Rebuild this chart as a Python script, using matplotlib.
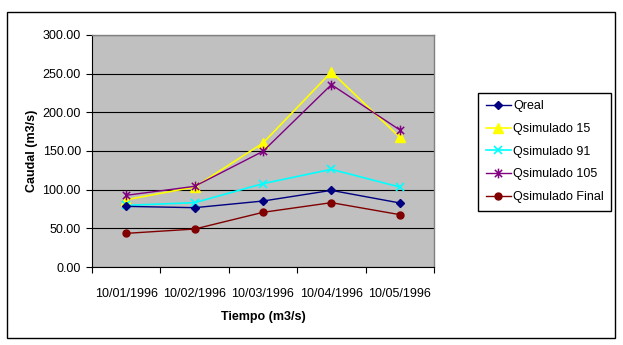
import matplotlib
matplotlib.use("Agg")
import matplotlib.pyplot as plt
from matplotlib.path import Path
from matplotlib.patches import Rectangle
from matplotlib.ticker import FixedLocator, FormatStrFormatter

plt.rcParams['font.family'] = ['Liberation Sans', 'DejaVu Sans']

fechas = ["10/01/1996", "10/02/1996", "10/03/1996", "10/04/1996", "10/05/1996"]
qreal = [78.4, 76.7, 85.3, 99.1, 82.8]
qsim15 = [87.0, 103.4, 160.3, 252.2, 167.7]
qsim91 = [79.7, 83.2, 107.8, 126.3, 103.4]
qsim105 = [92.7, 104.3, 149.6, 235.8, 177.2]
qsimfinal = [43.5, 49.1, 70.7, 83.2, 67.7]

W, H = 623, 345
fig = plt.figure(figsize=(W / 100, H / 100), dpi=100)
fig.patch.set_facecolor("white")

L, R, T, B = 92, 434, 35, 267
ax = fig.add_axes([L / W, 1 - B / H, (R - L) / W, (B - T) / H])
ax.set_facecolor("#C0C0C0")

star = Path([(0, -1), (0, 1), (-0.75, -0.75), (0.75, 0.75), (-0.75, 0.75), (0.75, -0.75)],
            [Path.MOVETO, Path.LINETO, Path.MOVETO, Path.LINETO, Path.MOVETO, Path.LINETO])

x = list(range(len(fechas)))
ax.plot(x, qreal, color="#000080", lw=1, marker="D", ms=4, label="Qreal", zorder=5)
ax.plot(x, qsim15, color="#FFFF00", lw=1.2, marker="^", ms=7, label="Qsimulado 15", zorder=4)
ax.plot(x, qsim91, color="#00FFFF", lw=1.2, marker="x", ms=6, mew=1.2, label="Qsimulado 91", zorder=4)
ax.plot(x, qsim105, color="#800080", lw=1, marker=star, ms=7, mew=1.1, label="Qsimulado 105", zorder=4)
ax.plot(x, qsimfinal, color="#800000", lw=1, marker="o", ms=5, label="Qsimulado Final", zorder=5)

ax.set_xlim(-0.5, len(fechas) - 0.5)
ax.set_ylim(0, 300)
ax.yaxis.set_major_locator(FixedLocator([0, 50, 100, 150, 200, 250, 300]))
ax.yaxis.set_major_formatter(FormatStrFormatter("%.2f"))
ax.grid(axis="y", color="black", lw=0.8)
ax.set_axisbelow(True)

ax.set_xticks(x)
ax.set_xticklabels(fechas)
ax.set_xticks([i - 0.5 for i in range(len(fechas) + 1)], minor=True)
ax.tick_params(axis="x", which="major", length=0, pad=15, labelsize=9)
ax.tick_params(axis="x", which="minor", length=4, width=0.8, direction="out")
ax.tick_params(axis="y", length=4, width=0.8, direction="out", pad=4, labelsize=9)

for s in ["left", "bottom"]:
    ax.spines[s].set_color("black")
    ax.spines[s].set_linewidth(0.8)
for s in ["top", "right"]:
    ax.spines[s].set_color("#808080")
    ax.spines[s].set_linewidth(1)

ax.set_ylabel("Caudal (m3/s)", fontsize=9, fontweight="bold")
ax.yaxis.set_label_coords((38 - L) / (R - L), 0.5)
ax.set_xlabel("Tiempo (m3/s)", fontsize=9, fontweight="bold")
ax.xaxis.set_label_coords((263 - L) / (R - L), -(311 - B) / (B - T))

leg = fig.legend(loc="upper left", bbox_to_anchor=(478 / W, 1 - 93 / H),
                 frameon=True, fancybox=False, framealpha=1, edgecolor="black",
                 fontsize=9, labelspacing=0.85, handlelength=2.0, handletextpad=0.2,
                 borderpad=0.6, borderaxespad=0)
leg.get_frame().set_linewidth(1)

fig.patches.append(Rectangle((7 / W, 1 - 338 / H), (615 - 7) / W, (338 - 12) / H,
                             transform=fig.transFigure, fill=False, edgecolor="black",
                             lw=1, zorder=0))

fig.savefig("out.png", dpi=100)
